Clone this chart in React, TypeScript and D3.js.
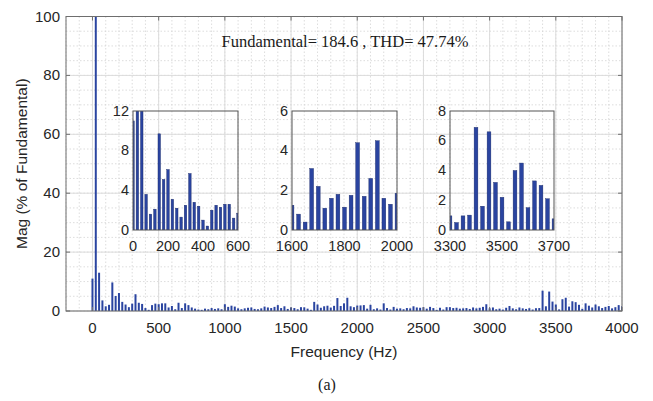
import React from "react";
import * as d3 from "d3";

// ---- data (magnitude in % of fundamental, 25 Hz bins) ----
const STEP = 25;
const magLow = [11, 100, 13, 3.6, 1.6, 2.1, 9.7, 5.1, 6.1, 3.1, 2.2, 1.3, 2.5, 5.7, 2.8, 2.4, 1.0, 0.4, 2.0, 2.5, 2.3, 2.6, 2.6, 1.2, 1.7];
const magMid1 = [0.6, 2.8, 1.0, 2.6, 2.0, 1.2, 0.8, 0.5, 0.4, 0.8, 0.6, 1.0, 0.7, 0.9, 0.6, 2.3, 1.4, 1.8, 1.5, 0.9, 0.6, 0.9, 1.1, 1.2, 0.7, 0.6, 0.9, 1.5, 1.2, 1.0, 1.4, 2.0, 1.0, 1.6, 0.7, 1.2, 1.0, 0.6, 1.3];
const magBand1 = [1.25, 0.8, 0.4, 3.1, 2.2, 1.1, 1.6, 1.8, 1.15, 1.75, 4.4, 1.7, 2.6, 4.5, 1.6, 1.3, 1.85];
const magMid2 = [1.9, 2.0, 0.8, 2.1, 0.6, 0.9, 0.5, 2.6, 1.0, 0.5, 1.4, 0.8, 0.9, 0.6, 1.0, 0.9, 1.6, 1.2, 1.1, 1.3, 0.8, 1.4, 1.0, 0.4, 1.1, 0.5, 1.3, 1.3, 1.0, 1.1, 0.8, 0.9, 1.0, 0.7, 1.2, 0.9, 1.1, 1.4, 2.3, 0.9, 1.2, 0.6, 0.8, 0.5, 1.1, 1.7, 0.9, 0.6, 1.2, 0.9, 0.7];
const magBand2 = [0.95, 0.5, 0.95, 1.0, 6.9, 1.6, 6.6, 3.2, 2.2, 0.55, 4.0, 4.5, 1.5, 3.3, 3.0, 2.1, 0.75];
const magHigh = [2.6, 1.8, 1.2, 2.2, 1.6, 1.0, 1.4, 1.7, 0.9, 1.3, 2.0, 1.6];

const mainXTicks = [0, 500, 1000, 1500, 2000, 2500, 3000, 3500, 4000];
const mainYTicks = [0, 20, 40, 60, 80, 100];

const insetDefs = [
  { id: "i1", xDomain: [0, 600], yDomain: [0, 12], xTicks: [0, 200, 400, 600], yTicks: [0, 4, 8, 12] },
  { id: "i2", xDomain: [1600, 2000], yDomain: [0, 6], xTicks: [1600, 1800, 2000], yTicks: [0, 2, 4, 6] },
  { id: "i3", xDomain: [3300, 3700], yDomain: [0, 8], xTicks: [3300, 3500, 3700], yTicks: [0, 2, 4, 6, 8] },
];
const insetBoxes = [
  { x: 133, y: 111, w: 105, h: 119 },
  { x: 292, y: 111, w: 105, h: 119 },
  { x: 450, y: 111, w: 104, h: 119 },
];

const annotation = "Fundamental= 184.6 , THD= 47.74%";

const mags = [...magLow, ...magMid1, ...magBand1, ...magMid2, ...magBand2, ...magHigh];
const spectrum = mags.map((m, i) => ({ f: i * STEP, m }));

const BAR = "#2a44a0";
const TXT = "#262626";
const SANS = "'Liberation Sans', Arial, sans-serif";
const SERIF = "'Liberation Serif', 'Times New Roman', serif";

export default function App() {
  const W = 653, H = 401;
  const L = 66, R = 622, T = 16.5, B = 311;
  const x = d3.scaleLinear().domain([-200, 4000]).range([L, R]);
  const y = d3.scaleLinear().domain([0, 100]).range([B, T]);
  const minorX = d3.range(-200, 4001, 100);
  const minorY = d3.range(0, 101, 5);
  const bwMain = (x(STEP) - x(0)) * 0.6;

  return (
    <svg width={W} height={H} style={{ position: "absolute", left: 0, top: 0, background: "#fff" }}>
      <defs>
        <clipPath id="mainclip"><rect x={L} y={T} width={R - L} height={B - T} /></clipPath>
        {insetDefs.map((d, k) => (
          <clipPath id={"clip" + d.id} key={d.id}>
            <rect x={insetBoxes[k].x} y={insetBoxes[k].y} width={insetBoxes[k].w} height={insetBoxes[k].h} />
          </clipPath>
        ))}
      </defs>
      <rect x={0} y={0} width={W} height={H} fill="#fff" />
      {/* minor grid */}
      {minorX.map((v) => (
        <line key={"mx" + v} x1={x(v)} x2={x(v)} y1={T} y2={B} stroke="#d4d4d4" strokeWidth={0.8} strokeDasharray="1.5,2" />
      ))}
      {minorY.map((v) => (
        <line key={"my" + v} x1={L} x2={R} y1={y(v)} y2={y(v)} stroke="#d4d4d4" strokeWidth={0.8} strokeDasharray="1.5,2" />
      ))}
      {/* major grid */}
      {mainXTicks.map((v) => (
        <line key={"gx" + v} x1={x(v)} x2={x(v)} y1={T} y2={B} stroke="#dcdcdc" strokeWidth={1} />
      ))}
      {mainYTicks.map((v) => (
        <line key={"gy" + v} x1={L} x2={R} y1={y(v)} y2={y(v)} stroke="#dcdcdc" strokeWidth={1} />
      ))}
      {/* main bars */}
      <g clipPath="url(#mainclip)">
        {spectrum.map((d) => (
          <rect key={"b" + d.f} x={x(d.f) - bwMain / 2} y={y(d.m)} width={bwMain} height={B - y(d.m)} fill={BAR} />
        ))}
      </g>
      {/* box & ticks */}
      <rect x={L} y={T} width={R - L} height={B - T} fill="none" stroke="#6e6e6e" strokeWidth={1} />
      {mainXTicks.map((v) => (
        <g key={"tx" + v}>
          <line x1={x(v)} x2={x(v)} y1={B} y2={B - 4} stroke="#6e6e6e" />
          <line x1={x(v)} x2={x(v)} y1={T} y2={T + 4} stroke="#6e6e6e" />
          <text x={x(v)} y={333} textAnchor="middle" fontFamily={SANS} fontSize={15} fill={TXT}>{v}</text>
        </g>
      ))}
      {mainYTicks.map((v) => (
        <g key={"ty" + v}>
          <line x1={L} x2={L + 4} y1={y(v)} y2={y(v)} stroke="#6e6e6e" />
          <line x1={R} x2={R - 4} y1={y(v)} y2={y(v)} stroke="#6e6e6e" />
          <text x={60} y={y(v) + 5} textAnchor="end" fontFamily={SANS} fontSize={15} fill={TXT}>{v}</text>
        </g>
      ))}
      <text x={(L + R) / 2} y={357} textAnchor="middle" fontFamily={SANS} fontSize={15.5} fill={TXT}>Frequency (Hz)</text>
      <text transform={`translate(27,${(T + B) / 2}) rotate(-90)`} textAnchor="middle" fontFamily={SANS} fontSize={15.5} fill={TXT}>Mag (% of Fundamental)</text>
      <text x={345} y={47} textAnchor="middle" fontFamily={SERIF} fontSize={16.5} fill="#1a1a1a">{annotation}</text>
      {/* insets */}
      {insetDefs.map((d, k) => {
        const bx = insetBoxes[k];
        const ix = d3.scaleLinear().domain(d.xDomain).range([bx.x, bx.x + bx.w]);
        const iy = d3.scaleLinear().domain(d.yDomain).range([bx.y + bx.h, bx.y]);
        const bw = (ix(d.xDomain[0] + STEP) - ix(d.xDomain[0])) * 0.58;
        const pts = spectrum.filter((p) => p.f >= d.xDomain[0] - STEP && p.f <= d.xDomain[1] + STEP);
        return (
          <g key={d.id}>
            <g clipPath={`url(#clip${d.id})`}>
              {pts.map((p) => {
                const top = Math.max(iy(p.m), bx.y - 2);
                return (
                  <rect key={p.f} x={ix(p.f) - bw / 2} y={top} width={bw} height={bx.y + bx.h - top}
                    fill={BAR} stroke="#1b2a66" strokeWidth={0.4} />
                );
              })}
            </g>
            <rect x={bx.x} y={bx.y} width={bx.w} height={bx.h} fill="none" stroke="#555" strokeWidth={1} />
            {d.yTicks.map((v) => (
              <text key={"iy" + v} x={bx.x - 4} y={iy(v) + 4.5} textAnchor="end" fontFamily={SANS} fontSize={14.5} fill={TXT}>{v}</text>
            ))}
            {d.xTicks.map((v) => (
              <text key={"ix" + v} x={ix(v)} y={251} textAnchor="middle" fontFamily={SANS} fontSize={14.5} fill={TXT}>{v}</text>
            ))}
          </g>
        );
      })}
      <text x={327} y={390} textAnchor="middle" fontFamily={SERIF} fontSize={16} fill="#1a1a1a">(a)</text>
    </svg>
  );
}
